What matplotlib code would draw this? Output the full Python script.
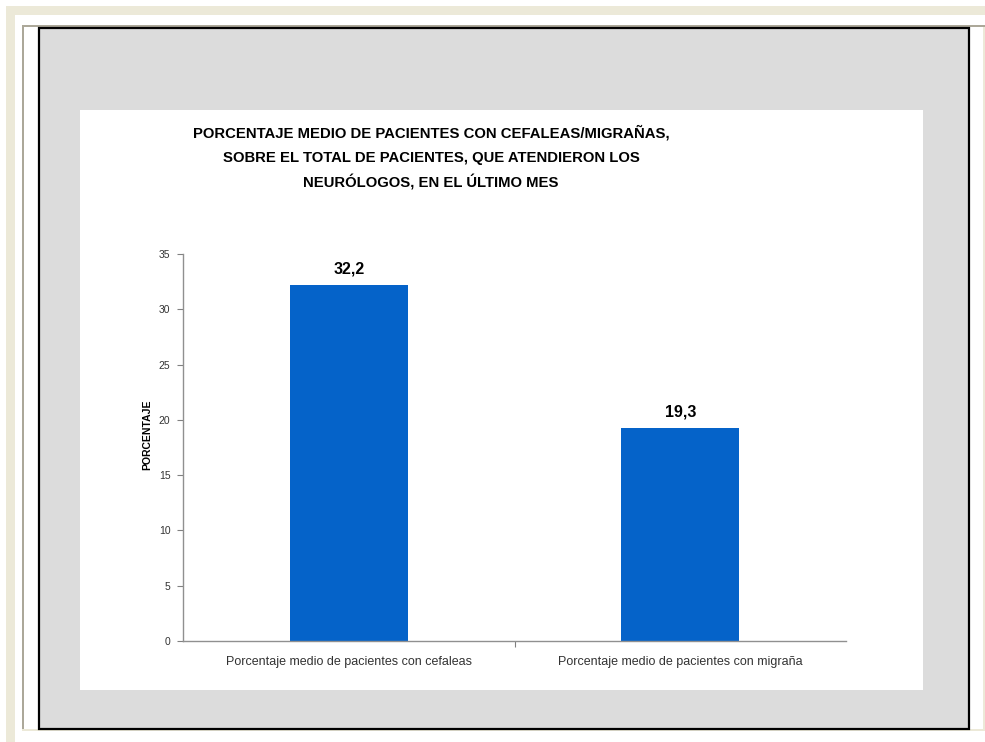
import matplotlib
matplotlib.use("Agg")
import matplotlib.pyplot as plt
from matplotlib.patches import Rectangle

plt.rcParams['font.family'] = ['Liberation Sans', 'DejaVu Sans']

categories = ["Porcentaje medio de pacientes con cefaleas",
              "Porcentaje medio de pacientes con migraña"]
values = [32.2, 19.3]
value_labels = ["32,2", "19,3"]
yticks = [0, 5, 10, 15, 20, 25, 30, 35]
title_lines = ["PORCENTAJE MEDIO DE PACIENTES CON CEFALEAS/MIGRAÑAS,",
               "SOBRE EL TOTAL DE PACIENTES, QUE ATENDIERON LOS",
               "NEURÓLOGOS, EN EL ÚLTIMO MES"]
ylabel = "PORCENTAJE"

W, H = 985, 742
fig = plt.figure(figsize=(W / 100, H / 100), dpi=100, facecolor="white")

def px_rect(x0, y0, x1, y1, **kw):
    r = Rectangle((x0 / W, 1 - y1 / H), (x1 - x0) / W, (y1 - y0) / H,
                  transform=fig.transFigure, zorder=0, **kw)
    fig.patches.append(r)
    return r

beige = "#ece9d8"
gline = "#aca899"
px_rect(6, 6, 985, 15, facecolor=beige, edgecolor="none")
px_rect(6, 6, 15, 742, facecolor=beige, edgecolor="none")
px_rect(22, 25, 985, 27, facecolor=gline, edgecolor="none")
px_rect(22, 25, 24, 730, facecolor=gline, edgecolor="none")
px_rect(22, 729, 985, 731, facecolor=beige, edgecolor="none")
px_rect(983, 27, 985, 731, facecolor=beige, edgecolor="none")
px_rect(39, 28, 969, 729, facecolor="#dcdcdc", edgecolor="black", linewidth=1.6)
px_rect(80, 110, 923, 690, facecolor="white", edgecolor="none")

ax_l, ax_r, ax_t, ax_b = 183, 846, 254, 641
ax = fig.add_axes([ax_l / W, 1 - ax_b / H, (ax_r - ax_l) / W, (ax_b - ax_t) / H])
ax.set_zorder(5)
ax.set_facecolor("none")

x = list(range(len(categories)))
bars = ax.bar(x, values, width=0.355, color="#0563c9", zorder=2)
ax.set_xlim(-0.5, len(categories) - 0.5)
ax.set_ylim(0, 35)
ax.set_yticks(yticks)
ax.set_yticklabels([str(t) for t in yticks], fontsize=7.5, color="#333333")
ax.set_xticks([i + 0.5 for i in range(len(categories) - 1)])
ax.set_xticklabels([])
ax.set_xticks(x, minor=True)
ax.set_xticklabels(categories, minor=True, fontsize=9, color="#333333")
ax.tick_params(axis="x", which="minor", length=0, pad=11)
ax.tick_params(axis="x", which="major", length=4, color="#808080", direction="out")
ax.tick_params(axis="y", length=4, color="#808080", direction="out", pad=5)

for s in ["top", "right"]:
    ax.spines[s].set_visible(False)
for s in ["left", "bottom"]:
    ax.spines[s].set_color("#909090")
    ax.spines[s].set_linewidth(1.0)

ax.set_ylabel(ylabel, fontsize=7.5, fontweight="bold")
ax.yaxis.set_label_coords(-0.054, 0.532)
ax.yaxis.label.set_verticalalignment("center")

for b, lab in zip(bars, value_labels):
    ax.annotate(lab, (b.get_x() + b.get_width() / 2, b.get_height()),
                xytext=(0, 6), textcoords="offset points",
                ha="center", va="bottom", fontsize=11.5, fontweight="bold")

for yb, line in zip([137, 162, 188], title_lines):
    fig.text(431 / W, 1 - yb / H, line, ha="center", va="baseline",
             fontsize=10.7, fontweight="bold", zorder=6)

fig.savefig("out.png", dpi=100, facecolor="white")
